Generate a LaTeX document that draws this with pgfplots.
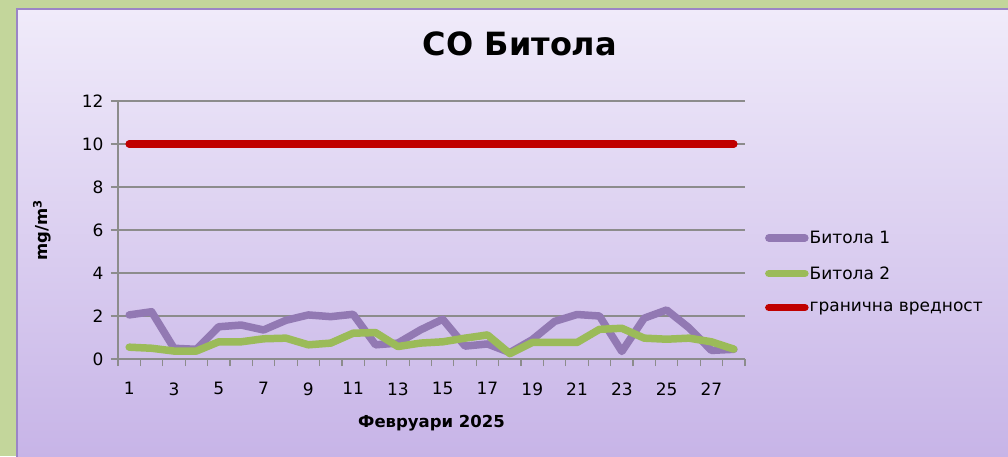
\documentclass[border=0pt]{standalone}
\usepackage{fontspec}
\setmainfont{DejaVu Sans}
\usepackage{pgfplots}
\usepackage{pgfplotstable}
\pgfplotsset{compat=1.18}
\definecolor{bgGreen}{HTML}{C3D69B}
\definecolor{frameLine}{HTML}{9B85C6}
\definecolor{bgTop}{HTML}{F0EBFA}
\definecolor{bgBot}{HTML}{C7B4E7}
\definecolor{gridGray}{HTML}{8C8C8C}
\definecolor{lnPurple}{HTML}{9279B3}
\definecolor{lnGreen}{HTML}{9BBB59}
\definecolor{lnRed}{HTML}{C00000}

% CO daily values, February 2025
\pgfplotstableread{
day b1   b2
1   2.05 0.55
2   2.20 0.50
3   0.50 0.37
4   0.45 0.37
5   1.50 0.80
6   1.58 0.80
7   1.35 0.94
8   1.80 0.97
9   2.05 0.66
10  1.97 0.74
11  2.08 1.20
12  0.66 1.23
13  0.74 0.58
14  1.35 0.74
15  1.85 0.80
16  0.60 0.97
17  0.70 1.12
18  0.30 0.25
19  0.90 0.77
20  1.75 0.77
21  2.07 0.77
22  2.00 1.38
23  0.35 1.43
24  1.90 0.97
25  2.28 0.92
26  1.45 0.97
27  0.40 0.80
28  0.45 0.46
}\bitola

\begin{document}
\begin{tikzpicture}
% backdrop: green page edge and shaded chart area
\fill[bgGreen] (-118pt,-97pt) rectangle (890pt,359pt);
\shade[top color=bgTop, bottom color=bgBot] (-101pt,-99pt) rectangle (892pt,350pt);
\draw[frameLine, line width=2pt] (-101pt,-99pt) -- (-101pt,350pt) -- (892pt,350pt);

\begin{axis}[
  scale only axis,
  width=627pt, height=258pt,
  xmin=0.5, xmax=28.5, ymin=0, ymax=12,
  axis lines=left,
  axis line style={-, draw=gridGray, line width=1.2pt},
  xtick={1,3,...,27},
  minor xtick={0.5,1.5,...,28.5},
  ytick={0,2,...,12},
  ymajorgrids,
  major grid style={draw=gridGray, line width=1.2pt},
  tick align=outside,
  major tick length=7pt, minor tick length=7pt,
  major x tick style={draw=none},
  tick style={draw=gridGray, line width=1.2pt},
  /pgf/number format/assume math mode=true,
  ticklabel style={font=\fontsize{17}{20}\selectfont},
  xticklabel style={yshift=-13pt},
  yticklabel style={xshift=-4pt},
  xlabel={Февруари 2025},
  xlabel style={font=\bfseries\fontsize{16.5}{19}\selectfont, at={(axis description cs:0.5,-0.248)}, anchor=center},
  ylabel={mg/m\textsuperscript{3}},
  ylabel style={font=\bfseries\fontsize{16.5}{19}\selectfont, at={(axis description cs:-0.121,0.5)}, anchor=center},
  title={CO Битола},
  title style={font=\bfseries\fontsize{32}{38}\selectfont, at={(axis description cs:0.641,1.198)}, anchor=center},
  legend style={at={(rel axis cs:1.027,0.337)}, anchor=west, draw=none, fill=none,
    font=\fontsize{17}{20}\selectfont, row sep=19.5pt, nodes={inner sep=1pt}},
  legend cell align=left,
  legend image code/.code={\draw[#1] (0pt,0pt) -- (36pt,0pt);},
  every axis plot/.append style={line width=7.5pt, line cap=round, line join=round, mark=none},
]
\addplot[lnPurple] table[x=day, y=b1] {\bitola};
\addlegendentry{Битола 1}
\addplot[lnGreen] table[x=day, y=b2] {\bitola};
\addlegendentry{Битола 2}
\addplot[lnRed] coordinates {(1,10) (28,10)};
\addlegendentry{гранична вредност}
\end{axis}
\pgfresetboundingbox
\path[use as bounding box] (-118pt,-97pt) rectangle (890pt,359pt);
\end{tikzpicture}
\end{document}
